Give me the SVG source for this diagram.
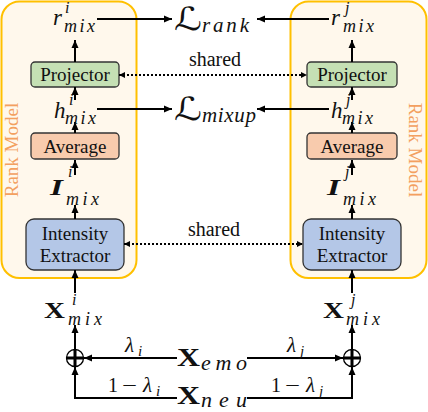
<svg xmlns="http://www.w3.org/2000/svg" width="428" height="412" viewBox="0 0 428 412">
<defs>
<marker id="ah" markerUnits="userSpaceOnUse" markerWidth="9" markerHeight="8" refX="8" refY="4" orient="auto"><path d="M0,0.5 L8,4 L0,7.5 z" fill="#000"/></marker>
<marker id="ahs" markerUnits="userSpaceOnUse" markerWidth="7" markerHeight="7" refX="6" refY="3" orient="auto-start-reverse"><path d="M0,0 L6,3 L0,6 z" fill="#000"/></marker>
</defs>
<style>
.cont{fill:#FFF8EC;stroke:#FFC000;stroke-width:2}
.box{stroke:#333;stroke-width:1.3}
.proj{fill:#C5E0B4}
.avg{fill:#F8CBAD}
.ext{fill:#B4C7E7}
.t{font-family:"Liberation Serif","Times New Roman",serif;font-size:19px;fill:#111}
.s{font-family:"Liberation Serif","Times New Roman",serif;font-size:20px;fill:#111}
.m{font-family:"Liberation Serif","Times New Roman",serif;font-style:italic;fill:#111}
.b{font-family:"Liberation Serif","Times New Roman",serif;font-weight:bold;fill:#111}
.bi{font-family:"Liberation Serif","Times New Roman",serif;font-weight:bold;font-style:italic;fill:#111}
.cal{font-family:"DejaVu Serif","DejaVu Sans",serif;fill:#111}
.rm{font-family:"Liberation Serif","Times New Roman",serif;font-size:19px;fill:#F3A060}
.a{stroke:#000;stroke-width:2;fill:none;marker-end:url(#ah)}
.d{stroke:#000;stroke-width:2;stroke-dasharray:2 2;fill:none;marker-start:url(#ahs);marker-end:url(#ahs)}
.circ{fill:#fff;stroke:#000;stroke-width:1.3}
.plus{stroke:#000;stroke-width:3;fill:none}
</style>
<g id="rank-model-i">
<rect class="cont" x="1.5" y="1.5" width="135" height="276.5" rx="18"/>
<text class="rm" transform="translate(18,150) rotate(-90)" text-anchor="middle">Rank Model</text>
</g>
<g id="rank-model-j">
<rect class="cont" x="290.5" y="1.5" width="136" height="276.5" rx="18"/>
<text class="rm" transform="translate(409,150) rotate(90)" text-anchor="middle">Rank Model</text>
</g>
<g id="projector-i"><rect class="box proj" x="31" y="62" width="88" height="25" rx="4"/><text class="t" x="75" y="81" text-anchor="middle">Projector</text></g>
<g id="projector-j"><rect class="box proj" x="307" y="62" width="90" height="25" rx="4"/><text class="t" x="352" y="81" text-anchor="middle">Projector</text></g>
<g id="average-i"><rect class="box avg" x="31" y="133" width="88" height="26" rx="4"/><text class="t" x="75" y="153" text-anchor="middle">Average</text></g>
<g id="average-j"><rect class="box avg" x="307" y="133" width="90" height="26" rx="4"/><text class="t" x="352" y="153" text-anchor="middle">Average</text></g>
<g id="extractor-i"><rect class="box ext" x="26" y="219" width="98" height="51" rx="8"/><text class="t" x="75" y="240" text-anchor="middle">Intensity</text><text class="t" x="75" y="262" text-anchor="middle">Extractor</text></g>
<g id="extractor-j"><rect class="box ext" x="303" y="219" width="98" height="51" rx="8"/><text class="t" x="352" y="240" text-anchor="middle">Intensity</text><text class="t" x="352" y="262" text-anchor="middle">Extractor</text></g>
<g id="connectors">
<path class="a" d="M75,62 V40"/><path class="a" d="M75,100 V87"/><path class="a" d="M75,133 V122"/><path class="a" d="M75,175 V160"/><path class="a" d="M75,219 V205"/><path class="a" d="M75,293 V270"/><path class="a" d="M75,349 V325"/>
<path class="a" d="M352,62 V40"/><path class="a" d="M352,100 V87"/><path class="a" d="M352,133 V122"/><path class="a" d="M352,175 V160"/><path class="a" d="M352,219 V205"/><path class="a" d="M352,293 V270"/><path class="a" d="M352,349 V325"/>
<path class="a" d="M97,19 H172"/><path class="a" d="M329,19 H257"/>
<path class="a" d="M97,109 H172"/><path class="a" d="M329,109 H257"/>
<path class="d" d="M119,75 H307"/><path class="d" d="M124,244 H303"/>
<path class="a" d="M177,358 H84"/><path class="a" d="M177,398 H75 V367"/>
<path class="a" d="M247,358 H343"/><path class="a" d="M247,398 H352 V367"/>
<text class="s" x="215" y="66" text-anchor="middle">shared</text>
<text class="s" x="214" y="236" text-anchor="middle">shared</text>
<text class="m" x="125" y="352" font-size="21">λ</text><text class="m" x="138" y="356" font-size="15">i</text>
<text class="m" x="287" y="352" font-size="21">λ</text><text class="m" x="300" y="356" font-size="15">j</text>
<text class="s" x="108" y="392">1</text><text class="s" x="122" y="392" textLength="15" lengthAdjust="spacingAndGlyphs">−</text><text class="m" x="143" y="392" font-size="21">λ</text><text class="m" x="156" y="396" font-size="15">i</text>
<text class="s" x="271" y="392">1</text><text class="s" x="285" y="392" textLength="15" lengthAdjust="spacingAndGlyphs">−</text><text class="m" x="306" y="392" font-size="21">λ</text><text class="m" x="319" y="396" font-size="15">j</text>
</g>
<g id="plus-i"><circle class="circ" cx="75" cy="358" r="8.5"/><path class="plus" d="M66.5,358 H83.5 M75,349.5 V366.5"/></g>
<g id="plus-j"><circle class="circ" cx="352" cy="358" r="8.5"/><path class="plus" d="M343.5,358 H360.5 M352,349.5 V366.5"/></g>
<g id="r-i"><text class="m" x="53" y="25" font-size="23">r</text><text class="m" x="65" y="13" font-size="16">i</text><text class="m" x="64" y="32" font-size="18" textLength="31" lengthAdjust="spacing">mix</text></g>
<g id="r-j"><text class="m" x="331" y="25" font-size="23">r</text><text class="m" x="345" y="13" font-size="16">j</text><text class="m" x="343" y="32" font-size="18" textLength="31" lengthAdjust="spacing">mix</text></g>
<g id="h-i"><text class="m" x="54" y="118" font-size="23">h</text><text class="m" x="69" y="105" font-size="16">i</text><text class="m" x="65" y="124" font-size="18" textLength="31" lengthAdjust="spacing">mix</text></g>
<g id="h-j"><text class="m" x="331" y="118" font-size="23">h</text><text class="m" x="346" y="105" font-size="16">j</text><text class="m" x="342" y="124" font-size="18" textLength="31" lengthAdjust="spacing">mix</text></g>
<g id="I-i"><text class="bi" x="50" y="195" font-size="24" textLength="13" lengthAdjust="spacingAndGlyphs">I</text><text class="m" x="68" y="177" font-size="16">i</text><text class="m" x="66" y="205" font-size="18" textLength="33" lengthAdjust="spacing">mix</text></g>
<g id="I-j"><text class="bi" x="327" y="195" font-size="24" textLength="13" lengthAdjust="spacingAndGlyphs">I</text><text class="m" x="345" y="177" font-size="16">j</text><text class="m" x="343" y="205" font-size="18" textLength="33" lengthAdjust="spacing">mix</text></g>
<g id="X-mix-i"><text class="b" x="44" y="318" font-size="23" textLength="21" lengthAdjust="spacingAndGlyphs">X</text><text class="m" x="72" y="305" font-size="16">i</text><text class="m" x="68" y="325" font-size="18" textLength="34" lengthAdjust="spacing">mix</text></g>
<g id="X-mix-j"><text class="b" x="323" y="318" font-size="23" textLength="21" lengthAdjust="spacingAndGlyphs">X</text><text class="m" x="351" y="305" font-size="16">j</text><text class="m" x="346" y="325" font-size="18" textLength="34" lengthAdjust="spacing">mix</text></g>
<g id="L-rank"><text class="cal" x="174" y="30" font-size="32" textLength="28" lengthAdjust="spacingAndGlyphs">ℒ</text><text class="m" x="202" y="32" font-size="21" textLength="47" lengthAdjust="spacing">rank</text></g>
<g id="L-mixup"><text class="cal" x="174" y="120" font-size="32" textLength="28" lengthAdjust="spacingAndGlyphs">ℒ</text><text class="m" x="202" y="122" font-size="21" textLength="54" lengthAdjust="spacing">mixup</text></g>
<g id="X-emo"><text class="b" x="177" y="366" font-size="25" textLength="23" lengthAdjust="spacingAndGlyphs">X</text><text class="m" x="201" y="370" font-size="22" textLength="46" lengthAdjust="spacing">emo</text></g>
<g id="X-neu"><text class="b" x="177" y="404" font-size="25" textLength="23" lengthAdjust="spacingAndGlyphs">X</text><text class="m" x="201" y="407" font-size="22" textLength="46" lengthAdjust="spacing">neu</text></g>
</svg>
